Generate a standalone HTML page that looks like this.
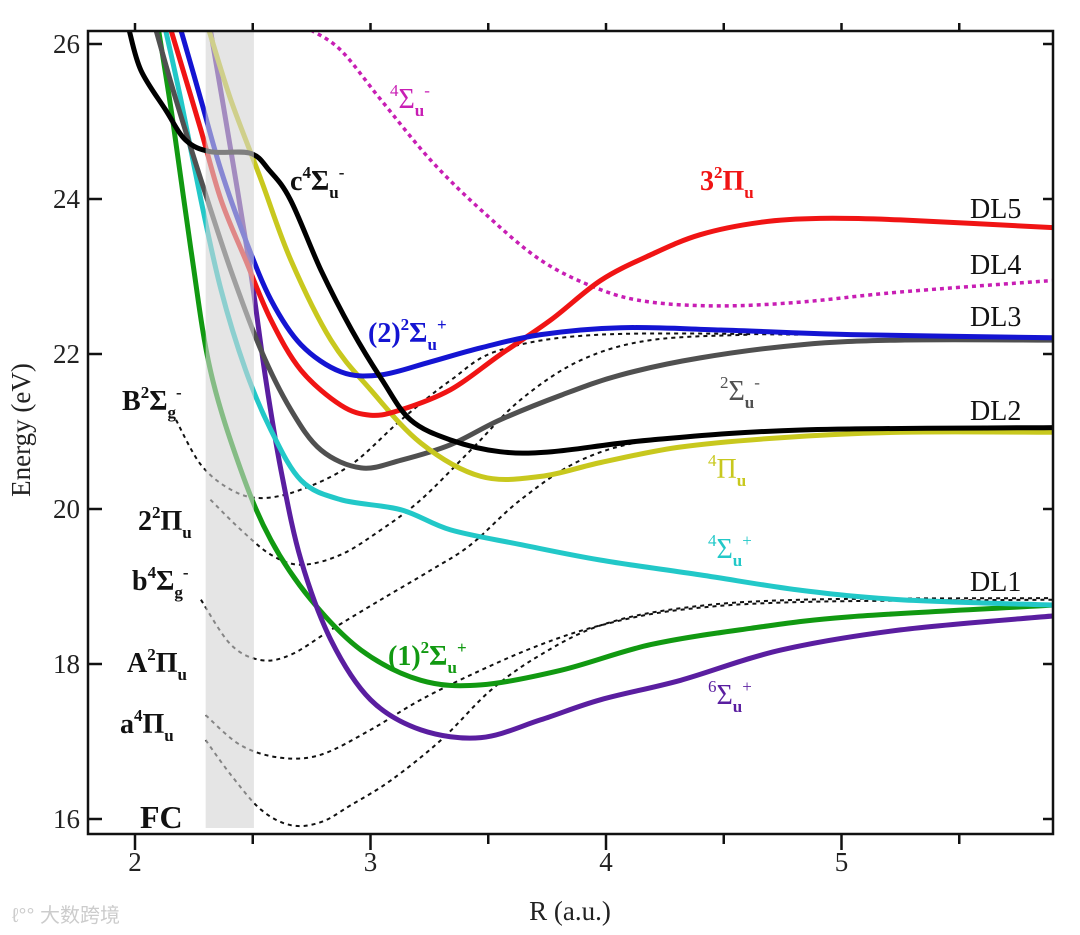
<!DOCTYPE html>
<html><head><meta charset="utf-8"><style>
body{margin:0;background:#fff;}
svg{display:block;}
</style></head><body>
<svg id="chart" width="1080" height="935" viewBox="0 0 1080 935" xmlns="http://www.w3.org/2000/svg" font-family="Liberation Serif, serif"></svg>
<script>
const xTicks=[2,3,4,5];
const yTicks=[16,18,20,22,24,26];
const blackC_R=[1.975,2.025,2.13,2.215,2.32,2.49,2.57,2.66,2.79,2.92,3.05,3.17,3.34,3.55,3.77,4.19,4.83,5.9];
const blackC_E=[26.18,25.66,25.15,24.76,24.61,24.59,24.37,23.99,23.08,22.31,21.66,21.15,20.89,20.74,20.74,20.89,21.02,21.05];
const red_R=[2.153,2.216,2.28,2.365,2.47,2.577,2.705,2.874,3.0,3.13,3.34,3.55,3.766,3.978,4.19,4.40,4.657,4.91,5.25,5.9];
const red_E=[26.18,25.54,24.89,23.99,23.21,22.44,21.79,21.34,21.21,21.28,21.54,21.99,22.44,22.95,23.28,23.54,23.70,23.75,23.73,23.63];
const blue_R=[2.195,2.28,2.365,2.47,2.577,2.705,2.874,3.044,3.256,3.469,3.723,4.063,4.487,5.04,5.9];
const blue_E=[26.18,25.28,24.37,23.47,22.70,22.12,21.77,21.73,21.90,22.08,22.25,22.34,22.31,22.25,22.21];
const yellow_R=[2.314,2.407,2.535,2.662,2.832,3.0,3.214,3.469,3.723,3.978,4.317,4.742,5.25,5.9];
const yellow_E=[26.18,25.28,24.25,23.21,22.18,21.54,20.85,20.42,20.42,20.6,20.8,20.92,20.99,20.99];
const gray_R=[2.089,2.174,2.28,2.407,2.535,2.662,2.79,2.96,3.13,3.34,3.55,3.81,4.063,4.40,4.83,5.25,5.9];
const gray_E=[26.18,25.28,24.25,23.08,22.05,21.28,20.76,20.53,20.63,20.83,21.15,21.47,21.73,21.95,22.12,22.18,22.18];
const cyan_R=[2.13,2.195,2.28,2.365,2.47,2.577,2.705,2.874,3.13,3.34,3.64,3.978,4.40,4.83,5.25,5.9];
const cyan_E=[26.18,25.28,23.99,22.83,21.79,21.02,20.37,20.12,19.99,19.73,19.54,19.34,19.15,18.95,18.83,18.76];
const green_R=[2.10,2.16,2.238,2.32,2.45,2.577,2.747,2.96,3.214,3.469,3.81,4.19,4.615,5.04,5.9];
const green_E=[26.18,25.02,23.34,21.79,20.50,19.60,18.83,18.18,17.79,17.73,17.92,18.25,18.46,18.61,18.76];
const purple_R=[2.32,2.407,2.49,2.556,2.62,2.705,2.832,3.0,3.214,3.469,3.723,3.978,4.317,4.742,5.25,5.9];
const purple_E=[26.18,24.63,23.08,21.66,20.50,19.34,18.31,17.54,17.15,17.05,17.28,17.54,17.79,18.18,18.44,18.62];
const magenta_R=[2.747,2.874,3.044,3.256,3.469,3.723,3.978,4.19,4.487,4.827,5.25,5.9];
const magenta_E=[26.18,25.92,25.28,24.50,23.86,23.21,22.83,22.67,22.62,22.67,22.80,22.95];
const B2_R=[2.174,2.28,2.407,2.535,2.705,2.917,3.13,3.34,3.55,3.978,4.83];
const B2_E=[21.15,20.57,20.25,20.14,20.25,20.57,21.15,21.66,22.05,22.25,22.25];
const P2_R=[2.32,2.45,2.577,2.705,2.874,3.044,3.214,3.426,3.638,3.893,4.19,4.615];
const P2_E=[20.12,19.73,19.41,19.28,19.41,19.73,20.12,20.76,21.41,21.92,22.18,22.25];
const b4_R=[2.28,2.407,2.535,2.662,2.832,3.044,3.256,3.426,3.638,3.893,4.19,4.615];
const b4_E=[18.83,18.25,18.05,18.12,18.44,18.83,19.21,19.54,20.12,20.63,20.89,20.99];
const A2_R=[2.30,2.45,2.62,2.79,3.0,3.214,3.469,3.723,3.978,4.317,4.83,5.9];
const A2_E=[17.34,16.95,16.79,16.83,17.15,17.54,17.92,18.25,18.50,18.70,18.80,18.83];
const a4_R=[2.30,2.407,2.535,2.662,2.79,2.917,3.087,3.30,3.51,3.723,3.978,4.317,4.83,5.9];
const a4_E=[17.02,16.57,16.12,15.92,15.96,16.18,16.50,17.02,17.66,18.12,18.50,18.72,18.83,18.85];

const X0=88,X1=1053,Y0=31,Y1=834;
function sx(r){return 135+(r-2)*235.5;}
function sy(e){return 44+(26-e)*77.5;}
const svg=document.getElementById('chart');
const NS='http://www.w3.org/2000/svg';
function mk(tag,attrs,parent){const el=document.createElementNS(NS,tag);for(const k in attrs)el.setAttribute(k,attrs[k]);(parent||svg).appendChild(el);return el;}
function pathD(R,E){
  const p=R.map((r,i)=>[sx(r),sy(E[i])]);
  let d='M'+p[0][0].toFixed(1)+','+p[0][1].toFixed(1);
  for(let i=0;i<p.length-1;i++){
    const p0=p[i-1]||p[i],p1=p[i],p2=p[i+1],p3=p[i+2]||p2;
    const c1=[p1[0]+(p2[0]-p0[0])/6,p1[1]+(p2[1]-p0[1])/6];
    const c2=[p2[0]-(p3[0]-p1[0])/6,p2[1]-(p3[1]-p1[1])/6];
    d+=' C'+c1.map(v=>v.toFixed(1)).join(',')+' '+c2.map(v=>v.toFixed(1)).join(',')+' '+p2[0].toFixed(1)+','+p2[1].toFixed(1);
  }
  return d;
}
const defs=mk('defs',{});
const cp=mk('clipPath',{id:'plotclip'},defs);
mk('rect',{x:X0,y:Y0,width:X1-X0,height:Y1-Y0},cp);
const g=mk('g',{'clip-path':'url(#plotclip)'});

const dotted=[[B2_R,B2_E,'curve-B2Sigma-g'],[P2_R,P2_E,'curve-2-2Pi-u'],[b4_R,b4_E,'curve-b4Sigma-g'],[A2_R,A2_E,'curve-A2Pi-u'],[a4_R,a4_E,'curve-a4Pi-u']];
dotted.forEach(c=>{
  const el=mk('path',{d:pathD(c[0],c[1]),fill:'none',stroke:'#111','stroke-width':2,'stroke-dasharray':'4,4'},g);
  
  
});
const mag=mk('path',{d:pathD(magenta_R,magenta_E),fill:'none',stroke:'#c81eb4','stroke-width':3.5,'stroke-dasharray':'4,4'},g);


const solid=[[green_R,green_E,'#119911','curve-1-2Sigma-u-plus'],[purple_R,purple_E,'#5a1ea0','curve-6Sigma-u-plus'],[cyan_R,cyan_E,'#22c8c8','curve-4Sigma-u-plus'],[gray_R,gray_E,'#505050','curve-2Sigma-u-minus'],[yellow_R,yellow_E,'#c8c81e','curve-4Pi-u'],[red_R,red_E,'#f01414','curve-3-2Pi-u'],[blue_R,blue_E,'#1414d2','curve-2-2Sigma-u-plus'],[blackC_R,blackC_E,'#000','curve-c4Sigma-u-minus']];
solid.forEach(c=>{
  const el=mk('path',{d:pathD(c[0],c[1]),fill:'none',stroke:c[2],'stroke-width':5,'stroke-linejoin':'round'},g);
  
  
});
const fc=mk('rect',{x:sx(2.3),y:32,width:sx(2.505)-sx(2.3),height:796,fill:'#d4d4d4',opacity:0.6});



const frame=mk('rect',{x:X0,y:Y0,width:X1-X0,height:Y1-Y0,fill:'none',stroke:'#111','stroke-width':2.5});


for(let r=2;r<=5.5;r+=0.5){
  const x=sx(r),len=(r%1===0)?16:10;
  mk('line',{x1:x,y1:Y1,x2:x,y2:Y1+len,stroke:'#111','stroke-width':2.5});
  mk('line',{x1:x,y1:Y0,x2:x,y2:Y0-8,stroke:'#111','stroke-width':2.5});
}
xTicks.forEach(t=>{
  const el=mk('text',{x:sx(t),y:871,'font-size':27,'text-anchor':'middle',fill:'#222','font-family':'Liberation Serif, serif'});
  el.textContent=t;
  
  
});
yTicks.forEach(t=>{
  const y=sy(t);
  mk('line',{x1:X0,y1:y,x2:X0+14,y2:y,stroke:'#111','stroke-width':2.5});
  mk('line',{x1:X1,y1:y,x2:X1-10,y2:y,stroke:'#111','stroke-width':2.5});
  const el=mk('text',{x:80,y:y+9,'font-size':27,'text-anchor':'end',fill:'#222','font-family':'Liberation Serif, serif'});
  el.textContent=t;
  
  
});
const xt=mk('text',{x:570,y:920,'font-size':27,'text-anchor':'middle',fill:'#222','font-family':'Liberation Serif, serif'});
xt.textContent='R (a.u.)';


const yt=mk('text',{x:0,y:0,'font-size':27,'text-anchor':'middle',fill:'#222','font-family':'Liberation Serif, serif',transform:'translate(30,430) rotate(-90)'});
yt.textContent='Energy (eV)';


</script>
<svg width="1080" height="935" style="position:absolute;left:0;top:0" xmlns="http://www.w3.org/2000/svg" font-family="Liberation Serif, serif">
<g font-size="28" fill="#111">
<text x="970" y="218">DL5</text>
<text x="970" y="274">DL4</text>
<text x="970" y="326">DL3</text>
<text x="970" y="420">DL2</text>
<text x="970" y="591">DL1</text>
</g>
<g font-size="28" font-weight="bold">
<text x="290" y="190" fill="#111">c<tspan font-size="17" dy="-12">4</tspan><tspan dy="12">Σ</tspan><tspan font-size="17" dy="8">u</tspan><tspan font-size="17" dy="-20">-</tspan></text>
<text x="700" y="190" fill="#f01414">3<tspan font-size="17" dy="-12">2</tspan><tspan dy="12">Π</tspan><tspan font-size="17" dy="8">u</tspan></text>
<text x="368" y="342" fill="#1414d2">(2)<tspan font-size="17" dy="-12">2</tspan><tspan dy="12">Σ</tspan><tspan font-size="17" dy="8">u</tspan><tspan font-size="17" dy="-20">+</tspan></text>
<text x="388" y="665" fill="#119911">(1)<tspan font-size="17" dy="-12">2</tspan><tspan dy="12">Σ</tspan><tspan font-size="17" dy="8">u</tspan><tspan font-size="17" dy="-20">+</tspan></text>
<text x="122" y="410" fill="#111">B<tspan font-size="17" dy="-12">2</tspan><tspan dy="12">Σ</tspan><tspan font-size="17" dy="8">g</tspan><tspan font-size="17" dy="-20">-</tspan></text>
<text x="138" y="530" fill="#111">2<tspan font-size="17" dy="-12">2</tspan><tspan dy="12">Π</tspan><tspan font-size="17" dy="8">u</tspan></text>
<text x="132" y="590" fill="#111">b<tspan font-size="17" dy="-12">4</tspan><tspan dy="12">Σ</tspan><tspan font-size="17" dy="8">g</tspan><tspan font-size="17" dy="-20">-</tspan></text>
<text x="127" y="672" fill="#111">A<tspan font-size="17" dy="-12">2</tspan><tspan dy="12">Π</tspan><tspan font-size="17" dy="8">u</tspan></text>
<text x="120" y="733" fill="#111">a<tspan font-size="17" dy="-12">4</tspan><tspan dy="12">Π</tspan><tspan font-size="17" dy="8">u</tspan></text>
<text x="140" y="828" font-size="32" fill="#111">FC</text>
</g>
<g font-size="28">
<text x="390" y="108" fill="#c81eb4"><tspan font-size="17" dy="-12">4</tspan><tspan dy="12">Σ</tspan><tspan font-size="17" dy="8" font-weight="bold">u</tspan><tspan font-size="17" dy="-20">-</tspan></text>
<text x="720" y="400" fill="#505050"><tspan font-size="17" dy="-12">2</tspan><tspan dy="12">Σ</tspan><tspan font-size="17" dy="8" font-weight="bold">u</tspan><tspan font-size="17" dy="-20">-</tspan></text>
<text x="708" y="478" fill="#c8c81e"><tspan font-size="17" dy="-12">4</tspan><tspan dy="12">Π</tspan><tspan font-size="17" dy="8" font-weight="bold">u</tspan></text>
<text x="708" y="558" fill="#22c8c8"><tspan font-size="17" dy="-12">4</tspan><tspan dy="12">Σ</tspan><tspan font-size="17" dy="8" font-weight="bold">u</tspan><tspan font-size="17" dy="-20">+</tspan></text>
<text x="708" y="704" fill="#5a1ea0"><tspan font-size="17" dy="-12">6</tspan><tspan dy="12">Σ</tspan><tspan font-size="17" dy="8" font-weight="bold">u</tspan><tspan font-size="17" dy="-20">+</tspan></text>
</g>
<text x="12" y="922" font-size="20" fill="#ccc" font-family="Liberation Sans, Noto Sans CJK SC, sans-serif">ℓ°° 大数跨境</text>
</svg>
</body></html>
